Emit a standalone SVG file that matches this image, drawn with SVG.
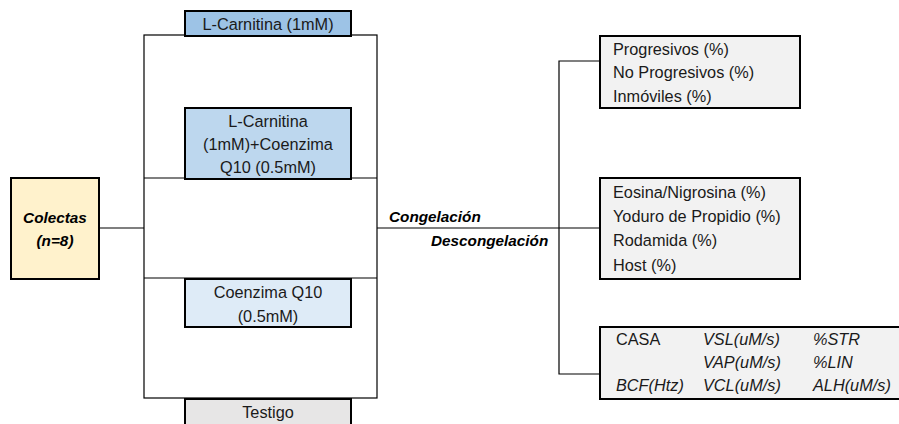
<svg xmlns="http://www.w3.org/2000/svg" width="899" height="424" viewBox="0 0 899 424">
<style>
.box{stroke:#000;stroke-width:2}
.ln{fill:none;stroke:#000;stroke-width:1.2}
text{font-family:"Liberation Sans",Arial,sans-serif;font-size:16.3px;fill:#1a1a1a}
.c{text-anchor:middle}
.bi{font-weight:bold;font-style:italic;fill:#000;font-size:15.3px}
.i{font-style:italic}
</style>
<rect width="899" height="424" fill="#fff"/>
<g id="connectors">
<rect class="ln" x="144" y="35" width="233" height="363" stroke="#444"/>
<line class="ln" x1="144" y1="178" x2="377" y2="178"/>
<line class="ln" x1="144" y1="278" x2="377" y2="278"/>
<line class="ln" x1="99" y1="228" x2="144" y2="228"/>
<line class="ln" x1="377" y1="228" x2="600" y2="228"/>
<polyline class="ln" points="600,61 559,61 559,374 600,374"/>
</g>
<g id="colectas">
<rect class="box" x="11" y="178" width="88" height="101" fill="#FFF2CC"/>
<text class="c bi" x="55" y="223">Colectas</text>
<text class="c bi" x="55" y="246">(n=8)</text>
</g>
<g id="lcarnitina">
<rect class="box" x="185" y="11" width="166" height="25" fill="#9DC3E6"/>
<text class="c" x="268" y="29.5">L-Carnitina (1mM)</text>
</g>
<g id="lcarnitina-coq10">
<rect class="box" x="185" y="108" width="166" height="71" fill="#BDD7EE"/>
<text class="c" x="268" y="127">L-Carnitina</text>
<text class="c" x="268" y="150">(1mM)+Coenzima</text>
<text class="c" x="268" y="173">Q10 (0.5mM)</text>
</g>
<g id="coq10">
<rect class="box" x="185" y="279" width="166" height="48" fill="#DEEBF7"/>
<text class="c" x="268" y="298">Coenzima Q10</text>
<text class="c" x="268" y="322">(0.5mM)</text>
</g>
<g id="testigo">
<rect class="box" x="185" y="399" width="166" height="26" fill="#E7E6E6"/>
<text class="c" x="268" y="417.5">Testigo</text>
</g>
<g id="labels">
<text class="bi" x="389" y="222">Congelación</text>
<text class="bi" x="431" y="246">Descongelación</text>
</g>
<g id="motilidad">
<rect class="box" x="600" y="36" width="200" height="72" fill="#F2F2F2"/>
<text x="613" y="55">Progresivos (%)</text>
<text x="613" y="78">No Progresivos (%)</text>
<text x="613" y="102">Inmóviles (%)</text>
</g>
<g id="viabilidad">
<rect class="box" x="600" y="178" width="200" height="101" fill="#F2F2F2"/>
<text x="613" y="198">Eosina/Nigrosina (%)</text>
<text x="613" y="222">Yoduro de Propidio (%)</text>
<text x="613" y="246">Rodamida (%)</text>
<text x="613" y="271">Host (%)</text>
</g>
<g id="casa">
<rect class="box" x="600" y="327" width="310" height="72" fill="#F2F2F2"/>
<text x="616" y="345">CASA</text>
<text class="i" x="703" y="345">VSL(uM/s)</text>
<text class="i" x="813" y="345">%STR</text>
<text class="i" x="703" y="368">VAP(uM/s)</text>
<text class="i" x="813" y="368">%LIN</text>
<text class="i" x="616" y="391">BCF(Htz)</text>
<text class="i" x="703" y="391">VCL(uM/s)</text>
<text class="i" x="813" y="391">ALH(uM/s)</text>
</g>
</svg>
